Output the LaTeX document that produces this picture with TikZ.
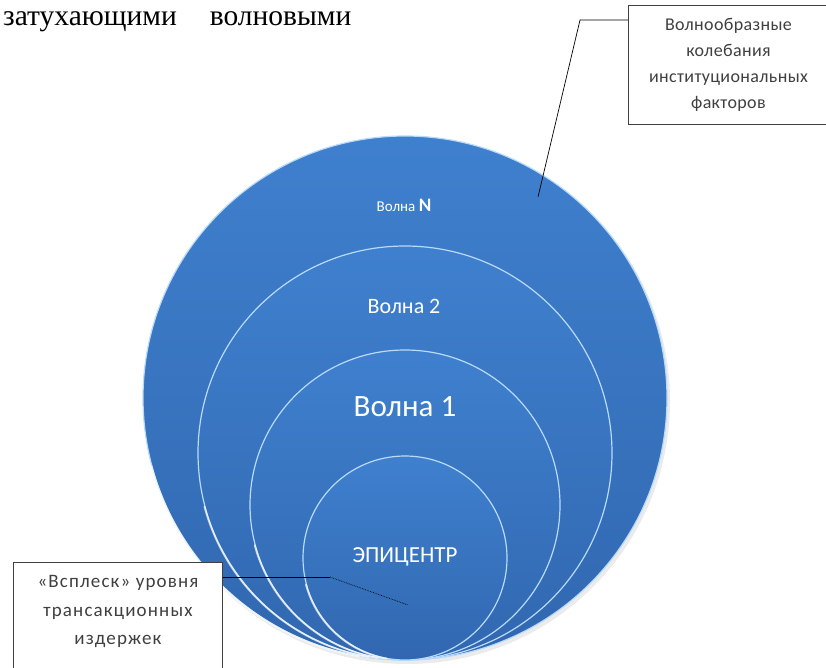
\documentclass[tikz,border=0pt]{standalone}
\usepackage{fontspec}
\setmainfont{Liberation Serif}
\newfontfamily\calib{Carlito}
\newfontfamily\calibA[LetterSpace=2]{Carlito}
\newfontfamily\calibB[LetterSpace=6]{Carlito}
\definecolor{waveTop}{HTML}{3F80CE}
\definecolor{waveBot}{HTML}{3167B0}
\definecolor{rimCol}{HTML}{B8DAFB}
\definecolor{boxText}{HTML}{404040}
\tikzset{
  wave/.style={circle, inner sep=0pt, top color=waveTop, bottom color=waveBot, draw=rimCol, line width=1.2pt},
  glint/.style={draw=white, line width=1.8pt, opacity=0.7, line cap=round},
  wavelabel/.style={text=white, font=\calib, inner sep=0pt},
  notebox/.style={draw=black!75, line width=0.9pt, fill=white, align=center, text=boxText, inner xsep=4pt},
  leader/.style={draw=black, line width=0.7pt},
}
\begin{document}
\begin{tikzpicture}[x=1pt,y=-1pt]
\useasboundingbox (0,0) rectangle (826,668);
% heading fragment
\node[anchor=base west, inner sep=0pt, font=\fontsize{29.5}{32}\selectfont] (head) at (3,26) {затухающими\hspace{33pt}волновыми};
% shadow
\fill[black, opacity=0.08] (407,401) circle[radius=263];
% waves
\node[wave, minimum size=524pt] (waveN) at (405,398) {};
\draw[glint] (waveN.195) arc[start angle=165, end angle=100, radius=262];
\node[wave, minimum size=414pt] (wave2) at (405,453) {};
\draw[glint] (wave2.195) arc[start angle=165, end angle=100, radius=207];
\node[wave, minimum size=310pt] (wave1) at (405,505) {};
\draw[glint] (wave1.195) arc[start angle=165, end angle=100, radius=155];
\node[wave, minimum size=204pt] (epi) at (405,558) {};
\draw[glint] (epi.195) arc[start angle=165, end angle=100, radius=102];
% labels
\node[wavelabel, font=\calib\fontsize{15}{18}\selectfont] (labN) at (404,205) {Волна {\fontsize{19}{20}\selectfont\bfseries N}};
\node[wavelabel, font=\calib\fontsize{22}{24}\selectfont] (lab2) at (404,306) {Волна 2};
\node[wavelabel, font=\calib\fontsize{31}{34}\selectfont] (lab1) at (405,407) {Волна 1};
\node[wavelabel, font=\calib\fontsize{23}{26}\selectfont] (labE) at (405,557) {ЭПИЦЕНТР};
% note boxes
\node[notebox, anchor=north west, minimum width=200pt, inner ysep=13pt, font=\calibA\fontsize{18}{26}\selectfont] (factors) at (628,5)
  {Волнообразные\\колебания\\институциональных\\факторов};
\node[notebox, anchor=north west, minimum width=209pt, inner ysep=13pt, text depth=45pt, font=\calibB\fontsize{19}{28.5}\selectfont] (burst) at (13,562)
  {«Всплеск» уровня\\трансакционных\\издержек};
% leaders
\coordinate (nEnd) at (538,197);
\coordinate (nBend) at (580,20);
\coordinate (eBend) at (330,577);
\coordinate (eEnd) at (408,605);
\draw[leader] ([yshift=-15pt]factors.north west) -- (nBend) -- (nEnd);
\draw[leader] ([yshift=-15pt]burst.north east) -- (eBend);
\draw[leader, densely dotted] (eBend) -- (eEnd);
\end{tikzpicture}
\end{document}
